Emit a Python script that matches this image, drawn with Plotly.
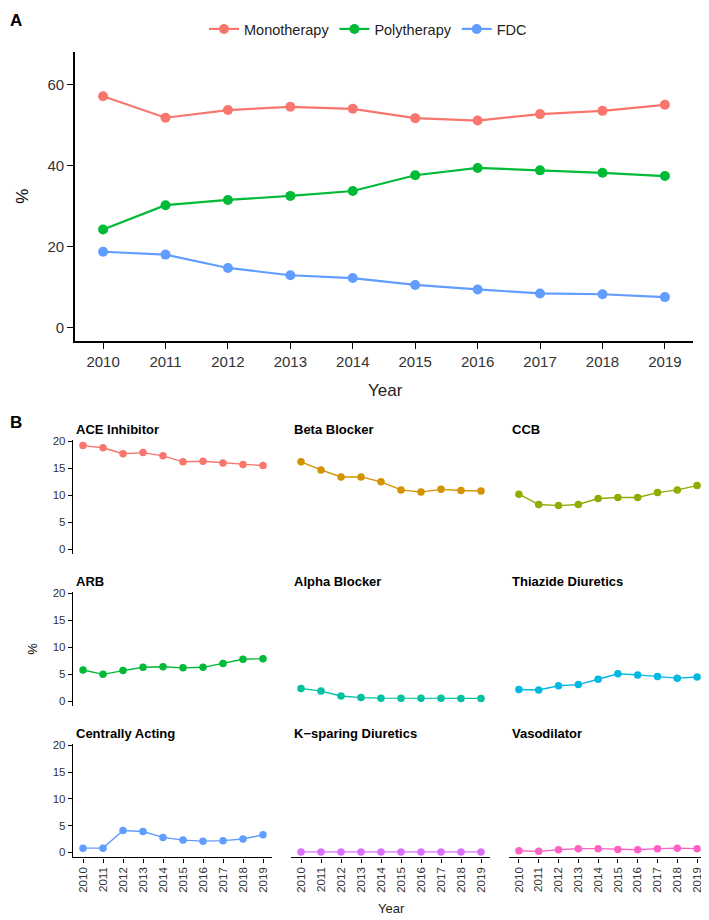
import plotly.graph_objects as go

# ---- data ----
years = [2010, 2011, 2012, 2013, 2014, 2015, 2016, 2017, 2018, 2019]

mono = [57.2, 51.9, 53.8, 54.6, 54.1, 51.8, 51.2, 52.8, 53.6, 55.1]
poly = [24.3, 30.3, 31.6, 32.6, 33.8, 37.7, 39.5, 38.9, 38.3, 37.5]
fdc = [18.8, 18.1, 14.8, 13.0, 12.3, 10.6, 9.5, 8.5, 8.3, 7.6]

classes = ["ACE Inhibitor", "Beta Blocker", "CCB",
           "ARB", "Alpha Blocker", "Thiazide Diuretics",
           "Centrally Acting", "K\u2212sparing Diuretics", "Vasodilator"]
ace = [19.2, 18.8, 17.7, 17.9, 17.3, 16.2, 16.3, 16.0, 15.7, 15.5]
beta = [16.2, 14.7, 13.4, 13.4, 12.5, 11.0, 10.6, 11.1, 10.9, 10.8]
ccb = [10.2, 8.3, 8.1, 8.3, 9.4, 9.6, 9.6, 10.5, 11.0, 11.8]
arb = [5.8, 5.0, 5.7, 6.3, 6.4, 6.2, 6.3, 7.0, 7.8, 7.9]
alpha = [2.4, 1.9, 1.0, 0.7, 0.6, 0.6, 0.6, 0.6, 0.55, 0.55]
thiazide = [2.2, 2.1, 2.9, 3.1, 4.1, 5.1, 4.9, 4.6, 4.3, 4.5]
central = [0.8, 0.8, 4.1, 3.9, 2.8, 2.3, 2.1, 2.2, 2.5, 3.3]
ksparing = [0.1, 0.1, 0.1, 0.1, 0.1, 0.1, 0.1, 0.1, 0.1, 0.1]
vaso = [0.3, 0.2, 0.5, 0.7, 0.7, 0.55, 0.5, 0.7, 0.8, 0.7]
class_values = [ace, beta, ccb, arb, alpha, thiazide, central, ksparing, vaso]

hue3 = ["#F8766D", "#00BA38", "#619CFF"]
hue9 = ["#F8766D", "#D39200", "#93AA00", "#00BA38", "#00C19F",
        "#00B9E3", "#619CFF", "#DB72FB", "#FF61C3"]

# the page body adds an 8px margin, so the figure is drawn 8px smaller
# and all screen positions below are shifted by that offset
OFF = 8
W, H = 709 - OFF, 920 - OFF
FONT = "Liberation Sans, Arial, sans-serif"
TICKC = "#333333"


def fx(p):
    return (p - OFF) / W


def fy(p):
    return 1 - (p - OFF) / H


def note(text, x, y, size, **kw):
    d = dict(text=text, x=fx(x), y=fy(y), xref="paper", yref="paper",
             showarrow=False, xanchor="center", yanchor="middle",
             font=dict(size=size, family=FONT, color=kw.pop("color", "black")))
    d.update(kw)
    return d


fig = go.Figure()

# ---- panel A ----
for name, vals, col in zip(["Monotherapy", "Polytherapy", "FDC"], [mono, poly, fdc], hue3):
    fig.add_trace(go.Scatter(x=years, y=vals, name=name, mode="lines+markers",
                             line=dict(color=col, width=2.2),
                             marker=dict(color=col, size=10),
                             xaxis="x", yaxis="y"))

layout = dict(
    width=W, height=H,
    margin=dict(l=0, r=0, t=0, b=0),
    paper_bgcolor="white", plot_bgcolor="white",
    font=dict(family=FONT, color="black"),
    showlegend=True,
    legend=dict(orientation="h", x=fx(368), xanchor="center", y=1.0, yanchor="top",
                font=dict(size=14.5, color="#222222"), itemwidth=30,
                tracegroupgap=0, bgcolor="rgba(0,0,0,0)"),
    xaxis=dict(domain=[fx(75), fx(693)], range=[2009.55, 2019.45], anchor="y",
               tickvals=years, ticktext=[str(y) for y in years],
               showline=True, linecolor="black", linewidth=1.6,
               ticks="outside", ticklen=6, tickwidth=1.4, tickcolor="black",
               tickfont=dict(size=15, color=TICKC), showgrid=False, zeroline=False),
    yaxis=dict(domain=[fy(338), fy(47)], range=[-3.2, 68.2], anchor="x",
               tickvals=[0, 20, 40, 60],
               showline=True, linecolor="black", linewidth=1.6,
               ticks="outside", ticklen=6, tickwidth=1.4, tickcolor="black",
               tickfont=dict(size=15, color=TICKC), showgrid=False, zeroline=False),
)

# ---- panel B: 3x3 small multiples ----
col_px = [(73, 272), (291, 490), (509, 706)]
row_px = [(438, 553), (591, 706), (744, 858)]
title_y = [427, 580, 733]

annotations = [
    note("<b>A</b>", 8, 16, 17, xanchor="left"),
    note("<b>B</b>", 8, 420, 17, xanchor="left"),
    note("%", 23, 193, 17, textangle=-90),
    note("Year", 385, 388, 17, color="#222222"),
    note("%", 33, 648, 13, textangle=-90),
    note("Year", 391, 909, 13, color="#222222"),
]

for i, (cname, vals) in enumerate(zip(classes, class_values)):
    r, c = divmod(i, 3)
    n = i + 2
    xa, ya = "x%d" % n, "y%d" % n
    fig.add_trace(go.Scatter(x=years, y=vals, mode="lines+markers", showlegend=False,
                             name=cname,
                             line=dict(color=hue9[i], width=1.4),
                             marker=dict(color=hue9[i], size=7.5),
                             xaxis=xa, yaxis=ya))
    bottom = r == 2
    left = c == 0
    layout["xaxis%d" % n] = dict(
        domain=[fx(col_px[c][0]), fx(col_px[c][1])], range=[2009.5, 2019.45],
        anchor=ya, tickvals=years, ticktext=[str(y) for y in years],
        showticklabels=bottom, showline=bottom, linecolor="black", linewidth=1.4,
        ticks="outside" if bottom else "", ticklen=4, tickwidth=1.2, tickcolor="black",
        tickangle=-90, tickfont=dict(size=11.5, color=TICKC),
        showgrid=False, zeroline=False)
    layout["yaxis%d" % n] = dict(
        domain=[fy(row_px[r][1]), fy(row_px[r][0])], range=[-0.93, 20.2],
        anchor=xa, tickvals=[0, 5, 10, 15, 20],
        showticklabels=left, showline=left, linecolor="black", linewidth=1.4,
        ticks="outside" if left else "", ticklen=4, tickwidth=1.2, tickcolor="black",
        tickfont=dict(size=11.5, color=TICKC), showgrid=False, zeroline=False)
    annotations.append(note("<b>%s</b>" % cname, col_px[c][0] + 1, title_y[r], 13,
                            xanchor="left"))

layout["annotations"] = annotations
fig.update_layout(**layout)

fig.write_html("out.html")
